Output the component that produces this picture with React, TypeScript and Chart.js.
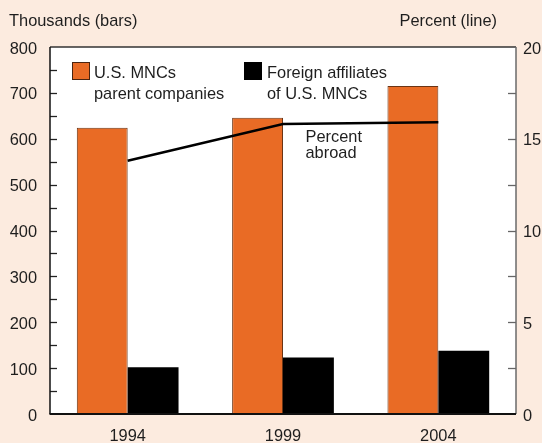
import React, { useEffect, useRef } from "react";
import { Chart, registerables } from "chart.js";

Chart.register(...registerables);

const years = ["1994", "1999", "2004"];
const parentCompanies = [624, 646, 715];
const foreignAffiliates = [102, 123, 138];
const percentAbroad = [13.8, 15.8, 15.9];
const leftTickStep = 100;
const leftMinorStep = 50;
const rightTickStep = 5;
const rightMinorStep = 2.5;

const ORANGE = "#E96B25";
const BG = "#FCEBDF";
const TEXT = "#1e1e1e";
const FONT = '"Liberation Sans", Arial, Helvetica, sans-serif';
const FS = 16.4;

const overlayPlugin = {
  id: "overlay",
  beforeDraw(chart: any) {
    const { ctx, chartArea } = chart;
    ctx.save();
    ctx.fillStyle = BG;
    ctx.fillRect(0, 0, chart.width, chart.height);
    ctx.fillStyle = "#ffffff";
    ctx.fillRect(chartArea.left, chartArea.top, chartArea.right - chartArea.left, chartArea.bottom - chartArea.top);
    ctx.restore();
  },
  afterDraw(chart: any) {
    const { ctx, chartArea } = chart;
    const { left, right, top, bottom } = chartArea;
    const y = chart.scales.y;
    const y1 = chart.scales.y1;
    ctx.save();
    // minor + major tick marks (inward)
    ctx.strokeStyle = "#222";
    ctx.lineWidth = 1.3;
    for (let v = leftMinorStep; v < y.max; v += leftMinorStep) {
      const py = Math.round(y.getPixelForValue(v)) + 0.5;
      ctx.beginPath();
      ctx.moveTo(left, py);
      ctx.lineTo(left + 7, py);
      ctx.stroke();
    }
    ctx.strokeStyle = "#666";
    for (let v = rightMinorStep; v < y1.max; v += rightMinorStep) {
      const py = Math.round(y1.getPixelForValue(v)) + 0.5;
      ctx.beginPath();
      ctx.moveTo(right - 8, py);
      ctx.lineTo(right, py);
      ctx.stroke();
    }
    // frame
    ctx.lineWidth = 1.5;
    ctx.strokeStyle = "#333";
    ctx.beginPath();
    ctx.moveTo(left, top);
    ctx.lineTo(right, top);
    ctx.stroke();
    ctx.strokeStyle = "#6a6a6a";
    ctx.beginPath();
    ctx.moveTo(right, top);
    ctx.lineTo(right, bottom);
    ctx.stroke();
    ctx.strokeStyle = "#111";
    ctx.beginPath();
    ctx.moveTo(left, top);
    ctx.lineTo(left, bottom);
    ctx.stroke();
    ctx.lineWidth = 2;
    ctx.beginPath();
    ctx.moveTo(left - 0.5, bottom);
    ctx.lineTo(right, bottom);
    ctx.stroke();

    // texts
    ctx.font = `${FS}px ${FONT}`;
    ctx.fillStyle = TEXT;
    ctx.textBaseline = "alphabetic";
    ctx.textAlign = "left";
    ctx.fillText("Thousands (bars)", 9, 26);
    ctx.textAlign = "right";
    ctx.fillText("Percent (line)", 497, 26);
    ctx.textAlign = "left";

    // legend
    ctx.fillStyle = ORANGE;
    ctx.fillRect(72, 62, 18, 18);
    ctx.strokeStyle = "#4a2410";
    ctx.lineWidth = 1;
    ctx.strokeRect(72.5, 62.5, 17, 17);
    ctx.fillStyle = "#000";
    ctx.fillRect(244, 62, 18, 18);
    ctx.fillStyle = TEXT;
    ctx.fillText("U.S. MNCs", 94, 77.5);
    ctx.fillText("parent companies", 94, 99);
    ctx.fillText("Foreign affiliates", 267, 77.5);
    ctx.fillText("of U.S. MNCs", 267, 99);

    // line label
    ctx.fillText("Percent", 305.5, 141.7);
    ctx.fillText("abroad", 305.5, 158.3);
    ctx.restore();
  },
};

export default function App() {
  const canvasRef = useRef<HTMLCanvasElement | null>(null);

  useEffect(() => {
    document.body.style.margin = "0";
    const canvas = canvasRef.current;
    if (!canvas) return;
    const chart = new Chart(canvas, {
      type: "bar",
      data: {
        labels: years,
        datasets: [
          {
            type: "line",
            label: "Percent abroad",
            data: percentAbroad,
            yAxisID: "y1",
            borderColor: "#000",
            borderWidth: 2.5,
            pointRadius: 0,
            tension: 0,
            fill: false,
            order: 0,
          } as any,
          {
            label: "U.S. MNCs parent companies",
            data: parentCompanies,
            yAxisID: "y",
            backgroundColor: ORANGE,
            borderColor: "#6b3414",
            borderWidth: 1,
            categoryPercentage: 0.655,
            barPercentage: 1,
            order: 1,
          },
          {
            label: "Foreign affiliates of U.S. MNCs",
            data: foreignAffiliates,
            yAxisID: "y",
            backgroundColor: "#000",
            borderColor: "#000",
            borderWidth: 0,
            categoryPercentage: 0.655,
            barPercentage: 1,
            order: 1,
          },
        ],
      },
      options: {
        responsive: false,
        animation: false,
        devicePixelRatio: 1,
        layout: { padding: { top: 47, left: 0, right: 0, bottom: 0 } },
        plugins: {
          legend: { display: false },
          tooltip: { enabled: false },
          title: { display: false },
        },
        scales: {
          x: {
            type: "category",
            offset: true,
            grid: { display: false, drawTicks: false },
            border: { display: false },
            ticks: {
              color: TEXT,
              font: { family: FONT, size: FS },
              padding: 13,
              maxRotation: 0,
            },
            afterFit: (scale: any) => {
              scale.height = 29;
            },
          },
          y: {
            position: "left",
            min: 0,
            max: 800,
            grid: { display: false, drawTicks: false },
            border: { display: false },
            ticks: {
              stepSize: leftTickStep,
              color: TEXT,
              font: { family: FONT, size: FS },
              padding: 13,
              labelOffset: 2,
            },
            afterFit: (scale: any) => {
              scale.width = 50;
            },
          },
          y1: {
            position: "right",
            min: 0,
            max: 20,
            grid: { display: false, drawTicks: false },
            border: { display: false },
            ticks: {
              stepSize: rightTickStep,
              color: TEXT,
              font: { family: FONT, size: FS },
              padding: 7,
              labelOffset: 2,
            },
            afterFit: (scale: any) => {
              scale.width = 26;
            },
          },
        },
      },
      plugins: [overlayPlugin],
    });
    return () => chart.destroy();
  }, []);

  return (
    <div style={{ position: "fixed", left: 0, top: 0, width: 542, height: 443, background: BG }}>
      <canvas ref={canvasRef} width={542} height={443} style={{ display: "block" }} />
    </div>
  );
}
